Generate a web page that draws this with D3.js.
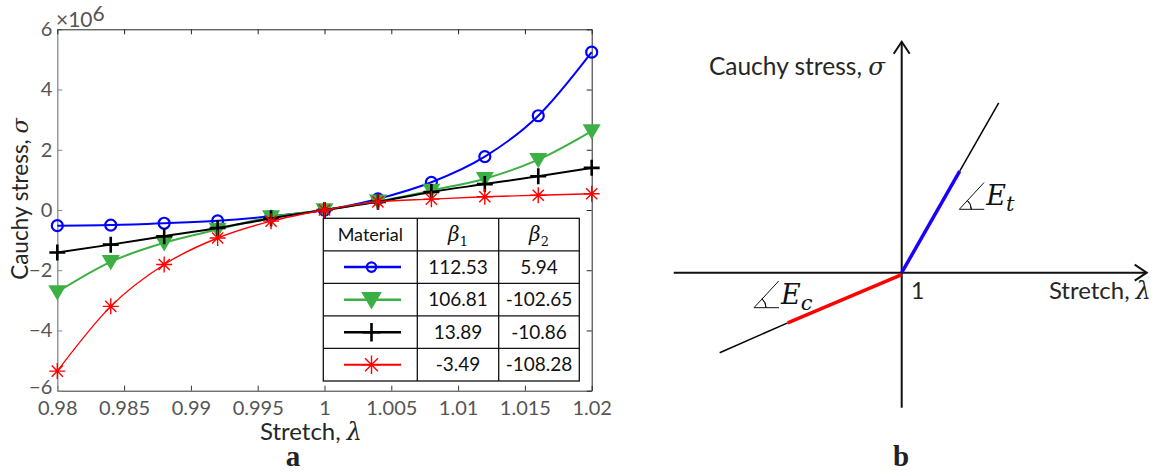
<!DOCTYPE html>
<html>
<head>
<meta charset="utf-8">
<script src="https://cdn.jsdelivr.net/npm/d3@7"></script>
<style>
  body { margin: 0; background: #fff; }
  svg { display: block; }
  .tick text { font-family: Lato, "Open Sans", sans-serif; font-size: 20px; fill: #555; }
  .lbl { font-family: Lato, "Open Sans", sans-serif; fill: #262626; }
  .math { font-family: "DejaVu Serif", "Liberation Serif", serif; font-style: italic; }
</style>
</head>
<body>
<div id="chart"></div>
<script>
// stretch values (lambda) at which the markers sit
const stretch = [0.98, 0.984, 0.988, 0.992, 0.996, 1.0, 1.004, 1.008, 1.012, 1.016, 1.02];
// Cauchy stress, in units of 1e6
const matBlue  = [-0.52, -0.50, -0.44, -0.36, -0.21, 0, 0.37, 0.92, 1.77, 3.13, 5.24];
const matGreen = [-2.72, -1.72, -1.09, -0.65, -0.23, 0, 0.29, 0.65, 1.04, 1.67, 2.62];
const matBlack = [-1.41, -1.15, -0.87, -0.60, -0.28, 0, 0.27, 0.60, 0.86, 1.12, 1.40];
const matRed   = [-5.35, -3.20, -1.81, -0.93, -0.37, 0, 0.27, 0.36, 0.44, 0.49, 0.54];
const xTicks = [0.98, 0.985, 0.99, 0.995, 1, 1.005, 1.01, 1.015, 1.02];
const yTicks = [-6, -4, -2, 0, 2, 4, 6];
// table
const beta1 = ["112.53", "106.81", "13.89", "-3.49"];
const beta2 = ["5.94", "-102.65", "-10.86", "-108.28"];
// schematic (panel b): slopes and segment ends in arbitrary units
const slopeEt = 1.75, slopeEc = 0.44;
const tensHighlightEnd = 0.58, tensEnd = 0.97;
const compHighlightEnd = -1.14, compEnd = -1.82;

const W = 1163, H = 473;
const svg = d3.select("#chart").append("svg").attr("width", W).attr("height", H);

// ---------- panel a ----------
const x = d3.scaleLinear().domain([0.98, 1.02]).range([57.3, 591.7]);
const y = d3.scaleLinear().domain([-6, 6]).range([390.7, 29.3]);

const fmtX = d => d3.format("")(+d.toFixed(3));
const gA = svg.append("g");

gA.append("g").attr("transform", `translate(0,${y(-6)})`)
  .call(d3.axisBottom(x).tickValues(xTicks).tickSizeInner(-5).tickSizeOuter(0).tickPadding(10).tickFormat(fmtX))
  .call(g => g.select(".domain").attr("stroke", "#333"))
  .call(g => g.selectAll(".tick line").attr("stroke", "#333"));
gA.append("g").attr("transform", `translate(${x(0.98)},0)`)
  .call(d3.axisLeft(y).tickValues(yTicks).tickSizeInner(-5).tickSizeOuter(0).tickPadding(5).tickFormat(d3.format("d")))
  .call(g => g.select(".domain").attr("stroke", "#888").attr("stroke-width", 1.3))
  .call(g => g.selectAll(".tick line").attr("stroke", "#888"))
  .call(g => g.selectAll(".tick").filter(d => d === -6).select("text").attr("dy", "0.12em"));
gA.append("g").attr("transform", `translate(0,${y(6)})`)
  .call(d3.axisTop(x).tickValues(xTicks).tickSizeInner(-5).tickSizeOuter(0).tickFormat(""))
  .call(g => g.select(".domain").attr("stroke", "#262626"))
  .call(g => g.selectAll(".tick line").attr("stroke", "#262626"));
gA.append("g").attr("transform", `translate(${x(1.02)},0)`)
  .call(d3.axisRight(y).tickValues(yTicks).tickSizeInner(-5).tickSizeOuter(0).tickFormat(""))
  .call(g => g.select(".domain").attr("stroke", "#262626"))
  .call(g => g.selectAll(".tick line").attr("stroke", "#262626"));

// x10^6 exponent
const expT = gA.append("text").attr("x", 56).attr("y", 27).attr("class", "lbl")
  .style("font-size", "21px").style("fill", "#555");
expT.append("tspan").text("\u00d710");
expT.append("tspan").attr("dy", -6).text("6");

gA.append("text").attr("class", "lbl").attr("x", 311).attr("y", 440)
  .attr("text-anchor", "middle").style("font-size", "24px")
  .text("Stretch, ").append("tspan").attr("class", "math").text("\u03bb");
gA.append("text").attr("class", "lbl")
  .attr("transform", `translate(28,199) rotate(-90)`)
  .attr("text-anchor", "middle").style("font-size", "22.5px")
  .text("Cauchy stress, ").append("tspan").attr("class", "math").text("\u03c3");

const series = [
  {vals: matBlue,  color: "#0000ff", marker: "circle", width: 2},
  {vals: matGreen, color: "#3cb044", marker: "tri",    width: 2},
  {vals: matBlack, color: "#000000", marker: "plus",   width: 2},
  {vals: matRed,   color: "#ff0000", marker: "star",   width: 1.4}
];

function drawMarker(g, type, color, s) {
  if (type === "circle") {
    g.append("circle").attr("r", 5.5 * s).attr("fill", "none").attr("stroke", color).attr("stroke-width", 2.2);
  } else if (type === "tri") {
    const r = 9 * s;
    g.append("path").attr("d", `M${-r},${-r * 0.75}L${r},${-r * 0.75}L0,${r * 0.95}Z`).attr("fill", color);
  } else if (type === "plus") {
    const r = 8 * s;
    g.append("path").attr("d", `M${-r},0H${r}M0,${-r}V${r}`).attr("stroke", color).attr("stroke-width", 2.6);
  } else {
    const r = 8 * s;
    let d = `M${-r},0H${r}M0,${-r}V${r}`;
    const q = r * 0.7;
    d += `M${-q},${-q}L${q},${q}M${-q},${q}L${q},${-q}`;
    g.append("path").attr("d", d).attr("stroke", color).attr("stroke-width", 1.4);
  }
}

const line = d3.line().x(d => x(d[0])).y(d => y(d[1])).curve(d3.curveMonotoneX);
series.forEach(s => {
  const pts = stretch.map((l, i) => [l, s.vals[i]]);
  gA.append("path").datum(pts).attr("d", line).attr("fill", "none")
    .attr("stroke", s.color).attr("stroke-width", s.width);
  pts.forEach(p => {
    const m = gA.append("g").attr("transform", `translate(${x(p[0])},${y(p[1])})`);
    drawMarker(m, s.marker, s.color, 1);
  });
});

// table legend
const tbl = gA.append("g");
const colX = [323.3, 417.3, 498.7, 579.3];
const rowY = d3.range(6).map(i => 218.3 + i * 32.54);
tbl.append("rect").attr("x", colX[0]).attr("y", rowY[0])
  .attr("width", colX[3] - colX[0]).attr("height", rowY[5] - rowY[0])
  .attr("fill", "#fff").attr("stroke", "#111").attr("stroke-width", 1.3);
colX.slice(1, 3).forEach(cx => tbl.append("line").attr("x1", cx).attr("x2", cx)
  .attr("y1", rowY[0]).attr("y2", rowY[5]).attr("stroke", "#111").attr("stroke-width", 1.3));
rowY.slice(1, 5).forEach(ry => tbl.append("line").attr("x1", colX[0]).attr("x2", colX[3])
  .attr("y1", ry).attr("y2", ry).attr("stroke", "#111").attr("stroke-width", 1.3));
const cmid = i => (colX[i] + colX[i + 1]) / 2;
const rmid = i => (rowY[i] + rowY[i + 1]) / 2;
tbl.append("text").attr("class", "lbl").attr("x", cmid(0)).attr("y", rmid(0) + 6)
  .attr("text-anchor", "middle").style("font-size", "18px").style("fill", "#111").text("Material");
["1", "2"].forEach((k, i) => {
  const t = tbl.append("text").attr("class", "math").attr("x", cmid(i + 1)).attr("y", rmid(0) + 6)
    .attr("text-anchor", "middle").style("font-size", "20px").style("fill", "#111");
  t.append("tspan").text("\u03b2");
  t.append("tspan").attr("dy", 5).style("font-size", "13px").style("font-style", "normal").text(k);
});
series.forEach((s, i) => {
  const cy = rmid(i + 1);
  tbl.append("line").attr("x1", 344).attr("x2", 401).attr("y1", cy).attr("y2", cy)
    .attr("stroke", s.color).attr("stroke-width", s.width + 0.5);
  const m = tbl.append("g").attr("transform", `translate(371.5,${cy})`);
  drawMarker(m, s.marker, s.color, s.marker === "circle" ? 0.85 : 1.15);
  tbl.append("text").attr("class", "lbl").attr("x", cmid(1)).attr("y", cy + 6.5)
    .attr("text-anchor", "middle").style("font-size", "19px").style("fill", "#111").text(beta1[i]);
  tbl.append("text").attr("class", "lbl").attr("x", cmid(2)).attr("y", cy + 6.5)
    .attr("text-anchor", "middle").style("font-size", "19px").style("fill", "#111").text(beta2[i]);
});

// ---------- panel b ----------
const xs = d3.scaleLinear().domain([0, 1]).range([901.7, 1001.7]);
const ys = d3.scaleLinear().domain([0, 1]).range([272.7, 172.7]);
const gB = svg.append("g");
const ln = (g, x1, y1, x2, y2, col, w) => g.append("line")
  .attr("x1", xs(x1)).attr("y1", ys(y1)).attr("x2", xs(x2)).attr("y2", ys(y2))
  .attr("stroke", col).attr("stroke-width", w).attr("stroke-linecap", "butt");

ln(gB, -2.28, 0, 2.45, 0, "#111", 2);
ln(gB, 0, -1.35, 0, 2.31, "#111", 2);
// arrow heads (open)
gB.append("path").attr("d", `M${xs(2.45) - 12},${ys(0) - 8}L${xs(2.45)},${ys(0)}L${xs(2.45) - 12},${ys(0) + 8}`)
  .attr("fill", "none").attr("stroke", "#111").attr("stroke-width", 2);
gB.append("path").attr("d", `M${xs(0) - 8},${ys(2.31) + 12}L${xs(0)},${ys(2.31)}L${xs(0) + 8},${ys(2.31) + 12}`)
  .attr("fill", "none").attr("stroke", "#111").attr("stroke-width", 2);

ln(gB, tensHighlightEnd, tensHighlightEnd * slopeEt, tensEnd, tensEnd * slopeEt, "#000", 1.5);
ln(gB, 0, 0, tensHighlightEnd, tensHighlightEnd * slopeEt, "#1a00ff", 3.5);
ln(gB, compHighlightEnd, compHighlightEnd * slopeEc, compEnd, compEnd * slopeEc, "#000", 1.5);
ln(gB, 0, -0.02, compHighlightEnd, compHighlightEnd * slopeEc, "#ff0000", 3.5);

function angleMark(px, py, label, sub) {
  const g = gB.append("g").attr("transform", `translate(${px},${py})`);
  g.append("path").attr("d", "M25,0H0L24.7,-26.7").attr("fill", "none").attr("stroke", "#111").attr("stroke-width", 1);
  g.append("path").attr("d", d3.arc()({innerRadius: 12, outerRadius: 12, startAngle: Math.PI / 2 - 0.83, endAngle: Math.PI / 2}))
    .attr("fill", "none").attr("stroke", "#111").attr("stroke-width", 1);
  const t = g.append("text").attr("class", "math").attr("x", 27).attr("y", -4)
    .style("font-size", "27px").style("fill", "#111");
  t.append("tspan").text(label);
  t.append("tspan").attr("dy", 6).style("font-size", "21px").text(sub);
}
angleMark(959.3, 209.3, "E", "t");
angleMark(754, 307.7, "E", "c");

gB.append("text").attr("class", "lbl").attr("x", 885).attr("y", 75)
  .attr("text-anchor", "end").style("font-size", "24.5px")
  .text("Cauchy stress, ").append("tspan").attr("class", "math").text("\u03c3");
gB.append("text").attr("class", "lbl").attr("x", 1151).attr("y", 299)
  .attr("text-anchor", "end").style("font-size", "24px")
  .text("Stretch, ").append("tspan").attr("class", "math").text("\u03bb");
gB.append("text").attr("class", "lbl").attr("x", 911).attr("y", 299).style("font-size", "23px").text("1");

// panel letters
[["a", 293], ["b", 901]].forEach(([t, px]) => svg.append("text").attr("x", px).attr("y", 466)
  .attr("text-anchor", "middle").style("font-family", "'Liberation Serif', serif")
  .style("font-weight", "bold").style("font-size", "29px").style("fill", "#222").text(t));
</script>
</body>
</html>
